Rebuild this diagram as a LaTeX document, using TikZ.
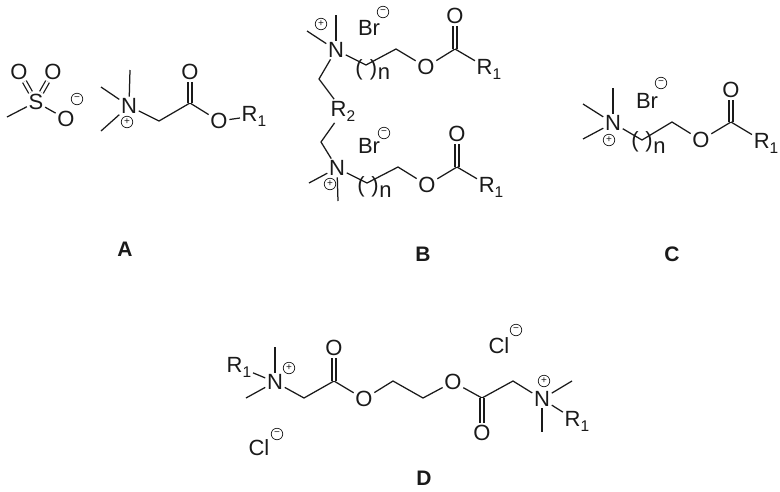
\documentclass[tikz,border=0pt]{standalone}
\usepackage{fontspec}
\setmainfont{Liberation Sans}
\definecolor{ink}{HTML}{1A1A1A}
\newcommand{\Rsub}[1]{R\raisebox{-5pt}{\fontsize{15.5}{15.5}\selectfont #1}}
\tikzset{
  atom/.style={inner sep=1.6pt, text=ink, font=\fontsize{22}{26}\selectfont},
  tag/.style={inner sep=0pt, text=ink, font=\fontsize{21}{25}\selectfont\bfseries},
  charge/.style={circle, draw=ink, line width=0.7pt, inner sep=0pt, minimum size=11.5pt, text=ink, font=\fontsize{10}{10}\selectfont},
  bond/.style={draw=ink, line width=1.25pt},
  dbond/.style={bond, double=white, double distance=2.8pt}
}
\begin{document}
\begin{tikzpicture}[x=1pt, y=-1pt]
    \useasboundingbox (0, 0) rectangle (780, 491);
    % A
    \node[atom] (SA) at (36, 102) {S};
    \node[atom] (OAa) at (19, 72) {O};
    \node[atom] (OAb) at (53, 72) {O};
    \node[atom] (OAc) at (66, 119) {O};
    \coordinate (MeA) at (7, 117);
    \node[charge] (mA) at (77, 99) {−};
    \draw[dbond] (SA) -- (OAa);
    \draw[dbond] (SA) -- (OAb);
    \draw[bond] (SA) -- (OAc);
    \draw[bond] (SA) -- (MeA);
    \node[atom] (NA) at (129, 106) {N};
    \coordinate (MeAa) at (130, 70);
    \coordinate (MeAb) at (101, 87);
    \coordinate (MeAc) at (101, 131);
    \node[charge] (pA) at (127, 122) {+};
    \coordinate (CHA) at (159, 121);
    \coordinate (CA) at (190, 103);
    \node[atom] (OAd) at (190, 72) {O};
    \node[atom] (OAe) at (219, 121) {O};
    \node[atom] (RA) at (254, 116) {\Rsub{1}};
    \draw[bond] (NA) -- (MeAa);
    \draw[bond] (NA) -- (MeAb);
    \draw[bond] (NA) -- (MeAc);
    \draw[bond] (NA) -- (CHA) -- (CA) -- (OAe);
    \draw[dbond] (CA) -- (OAd);
    \draw[bond] (OAe) -- (RA);
    \node[tag] (labelA) at (125, 249) {A};
    % B, upper half
    \node[atom] (NB) at (336, 50) {N};
    \node[charge] (pB) at (321, 24) {+};
    \coordinate (MeBa) at (336, 15);
    \coordinate (MeBb) at (307, 31);
    \coordinate (CHBa) at (319, 79);
    \node[atom] (RB) at (343, 111) {\Rsub{2}};
    \node[atom] (BrB) at (369, 28) {Br};
    \node[charge] (mB) at (383, 12) {−};
    \coordinate (CHBb) at (366, 65);
    \coordinate (CHBc) at (396, 49);
    \node[atom] (lpB) at (359, 70) {(};
    \node[atom] (rpB) at (373.5, 70) {)};
    \node[atom] (nB) at (384, 74) {n};
    \node[atom] (OBa) at (426, 67) {O};
    \coordinate (CB) at (455, 49);
    \node[atom] (OBb) at (455, 16) {O};
    \node[atom] (RBa) at (489, 69) {\Rsub{1}};
    \draw[bond] (NB) -- (MeBa);
    \draw[bond] (NB) -- (MeBb);
    \draw[bond] (NB) -- (CHBa) -- (RB);
    \draw[bond] (NB) -- (CHBb) -- (CHBc) -- (OBa) -- (CB);
    \draw[dbond] (CB) -- (OBb);
    \draw[bond] (CB) -- (RBa);
    % B, lower half
    \node[atom] (NC) at (337, 168) {N};
    \node[charge] (pC) at (330, 184) {+};
    \coordinate (MeCa) at (338, 201);
    \coordinate (MeCb) at (309, 183);
    \coordinate (CHCa) at (321, 142);
    \node[atom] (BrC) at (369, 146) {Br};
    \node[charge] (mC) at (384, 133) {−};
    \coordinate (CHCb) at (367, 183);
    \coordinate (CHCc) at (398, 167);
    \node[atom] (lpC) at (361, 187) {(};
    \node[atom] (rpC) at (375, 187) {)};
    \node[atom] (nC) at (385.5, 192) {n};
    \node[atom] (OCa) at (427, 185) {O};
    \coordinate (CC) at (457, 167);
    \node[atom] (OCb) at (457, 134) {O};
    \node[atom] (RCa) at (491, 187) {\Rsub{1}};
    \draw[bond] (NC) -- (MeCa);
    \draw[bond] (NC) -- (MeCb);
    \draw[bond] (NC) -- (CHCa) -- (RB);
    \draw[bond] (NC) -- (CHCb) -- (CHCc) -- (OCa) -- (CC);
    \draw[dbond] (CC) -- (OCb);
    \draw[bond] (CC) -- (RCa);
    \node[tag] (labelB) at (423, 254) {B};
    % C
    \node[atom] (ND) at (613, 123) {N};
    \coordinate (MeDa) at (613, 88);
    \coordinate (MeDb) at (583, 104);
    \coordinate (MeDc) at (583, 139);
    \node[charge] (pD) at (609, 140) {+};
    \node[atom] (BrD) at (647, 101) {Br};
    \node[charge] (mD) at (661, 83) {−};
    \coordinate (CHDb) at (642, 140);
    \coordinate (CHDc) at (672, 122);
    \node[atom] (lpD) at (635, 142) {(};
    \node[atom] (rpD) at (649, 142) {)};
    \node[atom] (nD) at (659.5, 148) {n};
    \node[atom] (ODa) at (701, 140) {O};
    \coordinate (CD) at (731, 122);
    \node[atom] (ODb) at (731, 90) {O};
    \node[atom] (RDa) at (766, 143) {\Rsub{1}};
    \draw[bond] (ND) -- (MeDa);
    \draw[bond] (ND) -- (MeDb);
    \draw[bond] (ND) -- (MeDc);
    \draw[bond] (ND) -- (CHDb) -- (CHDc) -- (ODa) -- (CD);
    \draw[dbond] (CD) -- (ODb);
    \draw[bond] (CD) -- (RDa);
    \node[tag] (labelC) at (672, 254) {C};
    % D
    \node[atom] (NE) at (275, 382) {N};
    \coordinate (MeEa) at (275, 347);
    \coordinate (MeEb) at (246, 398);
    \node[atom] (REa) at (239, 367) {\Rsub{1}};
    \node[charge] (pE) at (289, 368) {+};
    \coordinate (CHEa) at (304, 398);
    \coordinate (CEa) at (334, 381);
    \node[atom] (OEa) at (334, 348) {O};
    \node[atom] (OEb) at (364, 399) {O};
    \coordinate (CHEb) at (393, 381);
    \coordinate (CHEc) at (423, 398);
    \node[atom] (OEc) at (453, 382) {O};
    \coordinate (CEb) at (482, 398);
    \node[atom] (OEd) at (482, 433) {O};
    \coordinate (CHEd) at (513, 381);
    \node[atom] (NF) at (542, 399) {N};
    \node[charge] (pF) at (544, 381) {+};
    \coordinate (MeFa) at (572, 381);
    \coordinate (MeFb) at (542, 432);
    \node[atom] (RFa) at (577, 421) {\Rsub{1}};
    \node[atom] (ClE) at (259, 448) {Cl};
    \node[charge] (mE) at (277, 434) {−};
    \node[atom] (ClF) at (499, 346) {Cl};
    \node[charge] (mF) at (516, 330) {−};
    \draw[bond] (NE) -- (MeEa);
    \draw[bond] (NE) -- (MeEb);
    \draw[bond] (NE) -- (REa);
    \draw[bond] (NE) -- (CHEa) -- (CEa) -- (OEb) -- (CHEb) -- (CHEc) -- (OEc) -- (CEb) -- (CHEd) -- (NF);
    \draw[dbond] (CEa) -- (OEa);
    \draw[dbond] (CEb) -- (OEd);
    \draw[bond] (NF) -- (MeFa);
    \draw[bond] (NF) -- (MeFb);
    \draw[bond] (NF) -- (RFa);
    \node[tag] (labelD) at (424, 478) {D};
  \end{tikzpicture}
\end{document}
